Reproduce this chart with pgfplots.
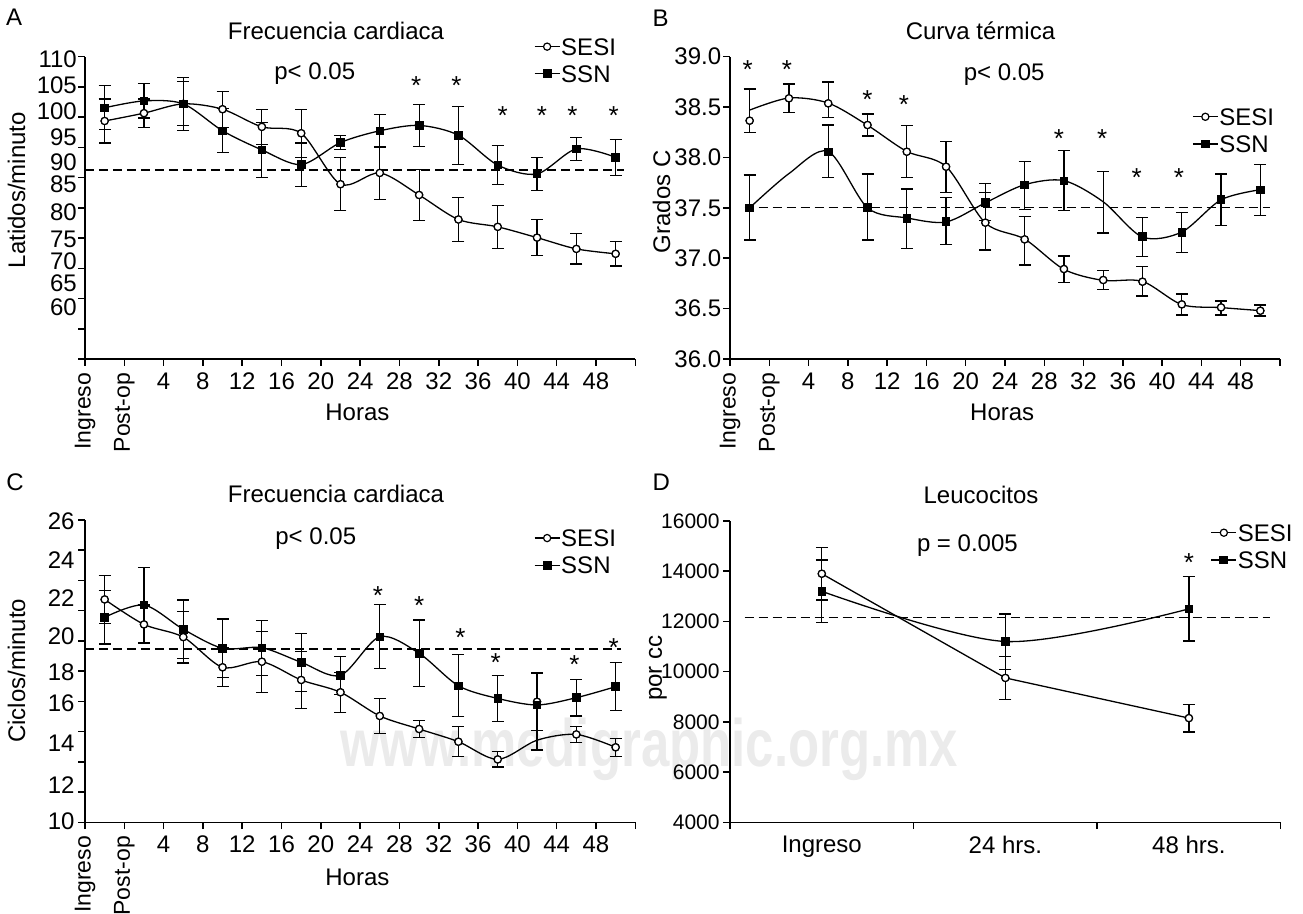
\documentclass[border=0pt]{standalone}
\usepackage{fontspec}
\setmainfont{Liberation Sans}
\usepackage{pgfplots}
\pgfplotsset{compat=1.18}
\usepackage{pgfplotstable}

\newcommand{\fs}{\fontsize{12}{14}\selectfont}

% A: frecuencia cardiaca (latidos/minuto)
\pgfplotstableread{
x y e
-2 97.9 4.5
2 99.5 2.9
6 101.4 4.5
10 100.3 3.7
14 96.7 3.6
18 95.4 4.9
22 85.0 5.4
26 87.3 5.4
30 82.8 5.2
34 77.8 4.5
38 76.3 4.4
42 74.1 3.7
46 71.8 3.1
50 70.8 2.5
}\Asesi
\pgfplotstableread{
x y e
-2 100.6 4.5
2 102.0 3.5
6 101.4 5.4
10 95.9 4.5
14 92.0 5.6
18 89.0 4.4
22 93.5 1.4
26 95.9 3.4
30 97.0 4.3
34 95.0 5.9
38 88.9 4.0
42 87.1 3.4
46 92.2 2.4
50 90.5 3.7
}\Assn

% B: curva termica
\pgfplotstableread{
x y ep em
-2 38.365 0.314 0.116
2 38.587 0.142 0.143
6 38.537 0.212 0.142
10 38.322 0.109 0.109
14 38.057 0.258 0.255
18 37.908 0.248 0.258
22 37.353 0.297 0.272
26 37.187 0.225 0.254
30 36.893 0.129 0.136
34 36.784 0.092 0.093
38 36.767 0.149 0.142
42 36.542 0.103 0.106
46 36.512 0.063 0.076
50 36.479 0.057 0.053
}\Bsesi
\pgfplotstableread{
x y
-2 38.47
2 38.59
6 38.54
10 38.32
14 38.06
18 37.91
22 37.35
26 37.19
30 36.89
34 36.78
38 36.77
42 36.54
46 36.51
50 36.48
}\Bsesiline
\pgfplotstableread{
x y ep em
-2 37.501 0.325 0.320
6 38.057 0.265 0.258
10 37.505 0.331 0.324
14 37.396 0.291 0.298
18 37.363 0.238 0.225
22 37.554 0.189 0.182
26 37.726 0.232 0.241
30 37.766 0.301 0.294
38 37.214 0.188 0.199
42 37.257 0.198 0.199
46 37.584 0.252 0.261
50 37.677 0.255 0.255
}\Bssn
\pgfplotstableread{
x y
-2 37.50
2 37.84
6 38.06
10 37.50
14 37.40
18 37.36
22 37.55
26 37.73
30 37.77
34 37.56
38 37.21
42 37.26
46 37.58
50 37.68
}\Bssnline

% C: frecuencia (ciclos/minuto)
\pgfplotstableread{
x y e
-2 21.92 1.27
2 20.58 1.04
6 19.90 1.39
10 18.28 1.04
14 18.58 1.64
18 17.60 1.52
22 16.94 1.07
26 15.67 0.95
30 14.97 0.45
34 14.29 0.80
38 13.34 0.41
42 16.43 1.55
46 14.68 0.43
50 13.99 0.48
}\Csesi
\pgfplotstableread{
x y
-2 21.92
2 20.58
6 19.90
10 18.28
14 18.58
18 17.60
22 16.94
26 15.67
30 14.97
34 14.29
38 13.34
42 14.37
46 14.68
50 13.99
}\Csesiline
\pgfplotstableread{
x y ep em
-2 20.96 1.43 1.43
2 21.62 2.00 2.00
6 20.32 1.57 1.57
10 19.30 1.57 1.57
14 19.33 1.47 1.47
18 18.55 1.55 1.55
22 17.85 1.02 1.02
26 19.92 1.72 1.72
30 19.03 1.79 1.79
34 17.29 1.66 1.66
38 16.61 1.25 1.25
42 16.26 1.70 2.41
46 16.65 0.98 0.98
50 17.24 1.29 1.29
}\Cssn

% D: leucocitos
\pgfplotstableread{
x y e
0.5 13900 1050
1.5 9750 860
2.5 8150 550
}\Dsesi
\pgfplotstableread{
x y e
0.5 13200 1250
1.5 11200 1100
2.5 12500 1280
}\Dssn

\pgfplotsset{
  panel/.style={
    scale only axis, clip=false,
    axis x line*=bottom, axis y line*=left,
    axis line style={line width=0.75pt},
    tick align=outside, major tick length=3.4pt,
    every tick/.style={black, line width=0.75pt},
    tick label style={font=\fs},
    label style={font=\fs},
    /pgf/number format/assume math mode=true,
    legend style={draw=none, fill=none, inner sep=0pt, outer sep=0pt,
      anchor=north west, font=\fs, row sep=4pt,
      nodes={inner sep=0.5pt, text height=8.6pt, text depth=0pt}},
    legend cell align=left,
    legend image code/.code={\draw[mark repeat=2, mark phase=2, #1]
      plot coordinates {(0pt,0pt) (6.25pt,0pt) (12.5pt,0pt)};},
  },
  hours/.style={xmin=-4, xmax=52, xtick={4,8,...,52},
    xticklabels={4,8,12,16,20,24,28,32,36,40,44,48,{}},
    extra x ticks={-4,0}, extra x tick labels={Ingreso,Post-op},
    extra x tick style={tick label style={rotate=90, anchor=east,
      font=\fontsize{11.5}{13}\selectfont}},
    xlabel={Horas}},
  curve/.style={black, line width=0.65pt, smooth, no marks},
  sesi/.style={black, only marks, mark=*, mark size=1.8pt,
    mark options={fill=white, line width=0.6pt}},
  ssn/.style={black, only marks, mark=square*, mark size=1.9pt},
  ebar/.style={error bars/y dir=both, error bars/y explicit,
    error bars/error bar style={draw=black, line width=0.6pt},
    error bars/error mark options={rotate=90, mark size=3pt, line width=0.6pt, draw=black}},
  ref/.style={black, line width=0.55pt, dash pattern=on 4.5pt off 2.5pt},
}
\tikzset{star/.style={anchor=base, yshift=-7.4pt, font=\fontsize{13}{13}\selectfont, inner sep=0pt}}

\begin{document}
\begin{tikzpicture}

\node[anchor=base, font=\fontsize{33.5}{34}\selectfont\bfseries, text=black!8,
  xscale=0.76, inner sep=0pt] at (324.5pt,-383.35pt) {www.medigraphic.org.mx};

% ---------- A ----------
\begin{axis}[panel, hours, at={(42.5pt,-179.5pt)}, anchor=south west,
  width=275.15pt, height=151.15pt,
  ymin=49.33, ymax=111.02,
  ytick={49.33,55.50,61.67,67.84,74.00,80.17,86.34,92.51,98.68,104.85,111.02},
  yticklabels={,,,,,,,,,,},
  yticklabel style={inner xsep=0.5pt},
  extra y ticks={110.59,105.18,99.79,94.52,89.42,84.99,79.38,73.77,69.36,64.77,59.99},
  extra y tick labels={110,105,100,95,90,85,80,75,70,65,60},
  extra y tick style={tick style={draw=none}},
  ylabel={Latidos/minuto},
  ylabel style={at={(axis description cs:-0.109,0.559)}, anchor=base},
  xlabel style={at={(axis description cs:0.495,0)}, anchor=base, yshift=-30.85pt},
  legend style={at={(axis description cs:0.816,1.065)}}]
\addlegendimage{black, line width=0.6pt, mark=*, mark size=1.8pt, mark options={fill=white}}
\addlegendimage{black, line width=0.6pt, mark=square*, mark size=1.9pt}
\addplot[ref] coordinates {(-4,87.9) (50.8,87.9)};
\addplot[curve] table[x=x,y=y] {\Asesi};
\addplot[curve] table[x=x,y=y] {\Assn};
\addplot[sesi, ebar] table[x=x,y=y,y error=e] {\Asesi};
\addplot[sesi] table[x=x,y=y] {\Asesi};
\addplot[ssn, ebar] table[x=x,y=y,y error=e] {\Assn};
\node[star] at (axis cs:29.7,106.26) {*};
\node[star] at (axis cs:33.8,106.26) {*};
\node[star] at (axis cs:38.5,100.14) {*};
\node[star] at (axis cs:42.5,100.14) {*};
\node[star] at (axis cs:45.6,100.14) {*};
\node[star] at (axis cs:49.8,100.14) {*};
\legend{SESI,SSN}
\end{axis}

% ---------- B ----------
\begin{axis}[panel, hours, at={(365pt,-179.5pt)}, anchor=south west,
  width=275pt, height=151.15pt,
  ymin=36, ymax=39, ytick={36,36.5,...,39},
  yticklabel style={inner xsep=0.8pt, /pgf/number format/.cd, fixed, fixed zerofill, precision=1, /tikz/.cd},
  ylabel={Grados C},
  ylabel style={at={(axis description cs:-0.109,0.52)}, anchor=base},
  xlabel style={at={(axis description cs:0.495,0)}, anchor=base, yshift=-30.85pt},
  legend style={at={(axis description cs:0.8405,0.833)}}]
\addlegendimage{black, line width=0.6pt, mark=*, mark size=1.8pt, mark options={fill=white}}
\addlegendimage{black, line width=0.6pt, mark=square*, mark size=1.9pt}
\addplot[ref] coordinates {(-2.5,37.5) (51,37.5)};
\addplot[curve] table[x=x,y=y] {\Bsesiline};
\addplot[curve] table[x=x,y=y] {\Bssnline};
\addplot[sesi, ebar] table[x=x,y=y,y error plus=ep,y error minus=em] {\Bsesi};
\addplot[sesi] table[x=x,y=y] {\Bsesi};
\addplot[ssn, ebar] table[x=x,y=y,y error plus=ep,y error minus=em] {\Bssn};
\addplot[draw=none, mark=none, ebar] coordinates {(34,37.56) += (0,0.30) -= (0,0.31)};
\node[star] at (axis cs:-2.2,38.934) {*};
\node[star] at (axis cs:1.8,38.934) {*};
\node[star] at (axis cs:10.0,38.63) {*};
\node[star] at (axis cs:13.7,38.58) {*};
\node[star] at (axis cs:29.5,38.246) {*};
\node[star] at (axis cs:33.9,38.246) {*};
\node[star] at (axis cs:37.4,37.859) {*};
\node[star] at (axis cs:41.7,37.859) {*};
\legend{SESI,SSN}
\end{axis}

% ---------- C ----------
\begin{axis}[panel, hours, at={(42.5pt,-411.15pt)}, anchor=south west,
  width=275.15pt, height=151.15pt,
  ymin=9.967, ymax=26.18,
  ytick={9.967,11.59,13.21,14.83,16.45,18.07,19.70,21.32,22.94,24.56,26.18},
  yticklabels={,,,,,,,,,,},
  yticklabel style={inner xsep=1.6pt},
  extra y ticks={26.09,24.05,21.98,19.97,18.04,16.35,14.20,11.97,10.0},
  extra y tick labels={26,24,22,20,18,16,14,12,10},
  extra y tick style={tick style={draw=none}},
  ylabel={Ciclos/minuto},
  ylabel style={at={(axis description cs:-0.109,0.501)}, anchor=base},
  xlabel style={at={(axis description cs:0.495,0)}, anchor=base, yshift=-31.35pt},
  legend style={at={(axis description cs:0.816,0.972)}}]
\addlegendimage{black, line width=0.6pt, mark=*, mark size=1.8pt, mark options={fill=white}}
\addlegendimage{black, line width=0.6pt, mark=square*, mark size=1.9pt}
\addplot[ref] coordinates {(-4,19.26) (50.5,19.26)};
\addplot[curve] table[x=x,y=y] {\Csesiline};
\addplot[curve] table[x=x,y=y] {\Cssn};
\addplot[sesi, ebar] table[x=x,y=y,y error=e] {\Csesi};
\addplot[sesi] table[x=x,y=y] {\Csesi};
\addplot[ssn, ebar] table[x=x,y=y,y error plus=ep,y error minus=em] {\Cssn};
\node[star] at (axis cs:25.8,22.42) {*};
\node[star] at (axis cs:30.0,21.89) {*};
\node[star] at (axis cs:34.2,20.19) {*};
\node[star] at (axis cs:37.8,18.85) {*};
\node[star] at (axis cs:45.8,18.76) {*};
\node[star] at (axis cs:49.8,19.65) {*};
\legend{SESI,SSN}
\end{axis}

% ---------- D ----------
\begin{axis}[panel, at={(365pt,-411.15pt)}, anchor=south west,
  width=275.35pt, height=150.65pt,
  xmin=0, xmax=3, xtick={0,1,2,3}, xticklabels={,,,},
  extra x ticks={0.5,1.5,2.5}, extra x tick labels={Ingreso,24 hrs.,48 hrs.},
  extra x tick style={tick style={draw=none}},
  ymin=4000, ymax=16000, ytick={4000,6000,...,16000}, scaled y ticks=false,
  yticklabel style={inner xsep=1.6pt, font=\fontsize{10.5}{12}\selectfont, /pgf/number format/1000 sep={}},
  ylabel={por cc},
  ylabel style={at={(axis description cs:-0.1235,0.512)}, anchor=base},
  legend style={at={(axis description cs:0.873,0.993)}}]
\addlegendimage{black, line width=0.6pt, mark=*, mark size=1.8pt, mark options={fill=white}}
\addlegendimage{black, line width=0.6pt, mark=square*, mark size=1.9pt}
\addplot[ref] coordinates {(0.08,12150) (2.94,12150)};
\addplot[black, line width=0.65pt, no marks] table[x=x,y=y] {\Dsesi};
\addplot[curve] table[x=x,y=y] {\Dssn};
\addplot[sesi, ebar] table[x=x,y=y,y error=e] {\Dsesi};
\addplot[sesi] table[x=x,y=y] {\Dsesi};
\addplot[ssn, ebar] table[x=x,y=y,y error=e] {\Dssn};
\node[star] at (axis cs:2.5,14580) {*};
\legend{SESI,SSN}
\end{axis}

% panel letters, titles, p values
\node[font=\fs, anchor=base] at (7.1pt,-13pt) {A};
\node[font=\fs, anchor=base] at (330.3pt,-13.3pt) {B};
\node[font=\fs, anchor=base] at (7.5pt,-245.5pt) {C};
\node[font=\fs, anchor=base] at (330.7pt,-245.2pt) {D};
\node[font=\fs, anchor=base] at (168pt,-20pt) {Frecuencia cardiaca};
\node[font=\fs, anchor=base] at (490.25pt,-20pt) {Curva térmica};
\node[font=\fs, anchor=base] at (168pt,-251.3pt) {Frecuencia cardiaca};
\node[font=\fs, anchor=base] at (490.5pt,-251.7pt) {Leucocitos};
\node[font=\fs, anchor=base west, inner sep=0pt] at (137pt,-40pt) {p< 0.05};
\node[font=\fs, anchor=base west, inner sep=0pt] at (481.7pt,-40.3pt) {p< 0.05};
\node[font=\fs, anchor=base west, inner sep=0pt] at (137.5pt,-272.5pt) {p< 0.05};
\node[font=\fs, anchor=base west, inner sep=0pt] at (458.3pt,-275.8pt) {p = 0.005};

\pgfresetboundingbox
\path[use as bounding box] (0pt,0pt) rectangle (651.5pt,-457pt);
\end{tikzpicture}
\end{document}
